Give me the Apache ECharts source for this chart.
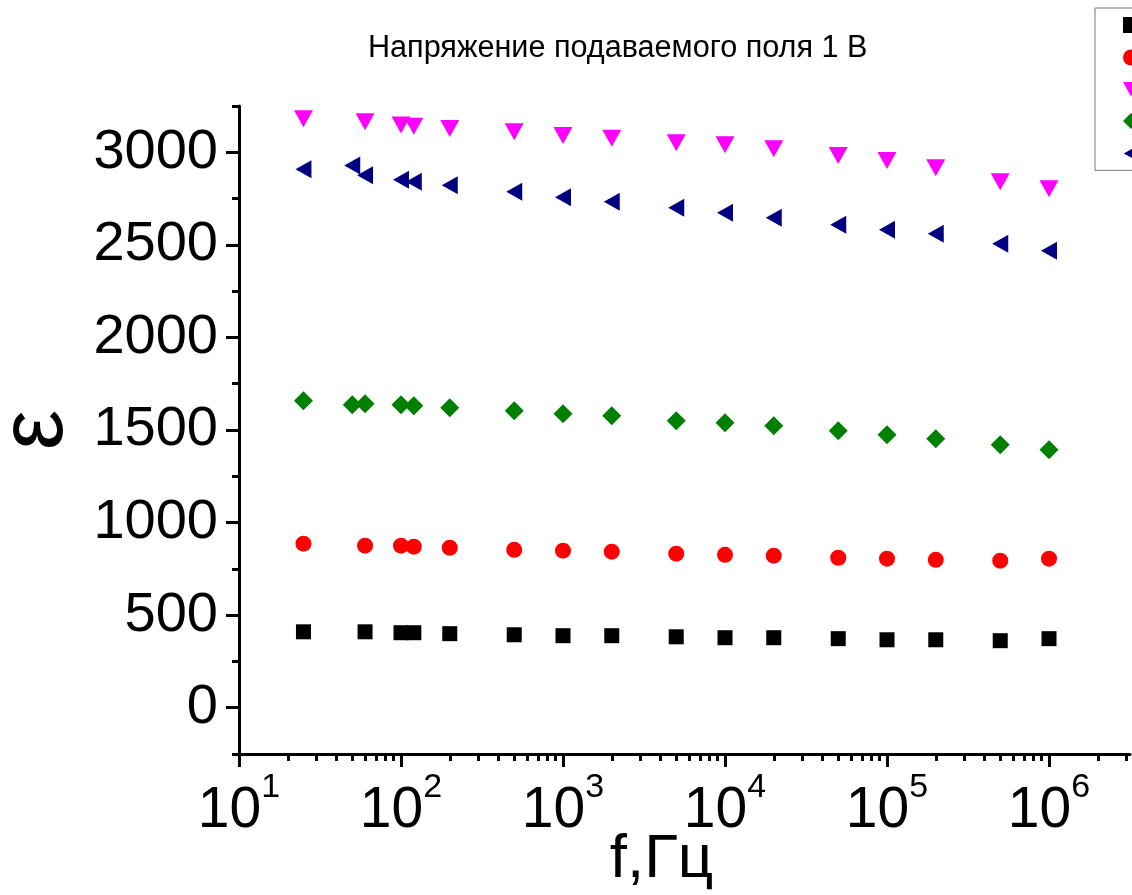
<!DOCTYPE html>
<html><head><meta charset="utf-8">
<script src="https://cdn.jsdelivr.net/npm/echarts@6/dist/echarts.min.js"></script>
<style>html,body{margin:0;padding:0;background:#fff}#c{width:1132px;height:895px}</style>
</head><body><div id="c"></div>
<script>
// frequencies (Hz)
const freqA = [25, 60, 100, 120, 200, 500, 1000, 2000, 5000, 1e4, 2e4, 5e4, 1e5, 2e5, 5e5, 1e6];
const freqB = [25, 50, 60, 100, 120, 200, 500, 1000, 2000, 5000, 1e4, 2e4, 5e4, 1e5, 2e5, 5e5, 1e6];
// permittivity values
const epsBlack   = [410, 410, 405, 405, 400, 394, 389, 389, 383, 378, 378, 373, 367, 367, 362, 373];
const epsRed     = [886, 875, 875, 870, 864, 853, 848, 843, 832, 826, 821, 810, 805, 799, 794, 805];
const epsMagenta = [3181, 3165, 3148, 3140, 3129, 3111, 3091, 3076, 3052, 3041, 3019, 2982, 2955, 2917, 2841, 2803];
const epsGreen   = [1658, 1637, 1642, 1637, 1631, 1620, 1604, 1588, 1577, 1550, 1539, 1523, 1496, 1475, 1453, 1421, 1394];
const epsNavy    = [2909, 2929, 2876, 2852, 2841, 2822, 2787, 2757, 2733, 2701, 2674, 2647, 2609, 2582, 2560, 2506, 2468];
const seriesNames = ['1', '2', '3', '4', '5'];
// ticks
const xMajor = [10, 100, 1000, 1e4, 1e5, 1e6];
const xMinor = [20,30,40,50,60,70,80,90, 200,300,400,500,600,700,800,900,
  2000,3000,4000,5000,6000,7000,8000,9000, 2e4,3e4,4e4,5e4,6e4,7e4,8e4,9e4,
  2e5,3e5,4e5,5e5,6e5,7e5,8e5,9e5, 2e6,3e6];
const yMajor = [0, 500, 1000, 1500, 2000, 2500, 3000];
const yMinor = [-250, 250, 750, 1250, 1750, 2250, 2750, 3250];
const titleText = 'Напряжение подаваемого поля 1 В';

const FONT = 'Liberation Sans, Arial, sans-serif';
const zip = (xs, ys) => xs.map((x, i) => [x, ys[i]]);
const XMAX = Math.pow(10, 6.5);
const blackLine = { color: '#000', width: 3 };
const downTri = 'path://M0,0L20,0L10,18Z';
const leftTri = 'path://M18,0L18,20L0,10Z';

const chart = echarts.init(document.getElementById('c'), null, { renderer: 'canvas' });
chart.setOption({
  animation: false,
  backgroundColor: '#fff',
  title: {
    text: titleText, left: 368, top: 33, padding: 0,
    textStyle: { fontSize: 30.6, fontWeight: 'normal', fontFamily: FONT, color: '#000' }
  },
  legend: {
    orient: 'vertical', left: 1095, top: 8,
    padding: [9, 10, 9, 28], itemWidth: 16, itemHeight: 16, itemGap: 16.5,
    borderColor: '#777', borderWidth: 1,
    textStyle: { fontSize: 14, fontFamily: FONT, color: '#000' },
    data: [
      { name: seriesNames[0], icon: 'rect' },
      { name: seriesNames[1], icon: 'circle' },
      { name: seriesNames[2], icon: downTri },
      { name: seriesNames[3], icon: 'diamond' },
      { name: seriesNames[4], icon: leftTri }
    ]
  },
  grid: { left: 239, right: 2, top: 106, bottom: 141, containLabel: false, outerBoundsMode: 'none' },
  xAxis: [
    {
      type: 'log', logBase: 10, min: 10, max: XMAX, position: 'bottom',
      axisLine: { onZero: false, lineStyle: blackLine },
      axisTick: { customValues: xMajor, length: 13, lineStyle: blackLine },
      axisLabel: {
        customValues: xMajor, margin: 25,
        formatter: v => '{b|10}{s|' + Math.round(Math.log10(v)) + '}',
        rich: {
          b: { fontSize: 57, lineHeight: 64, fontFamily: FONT, color: '#000' },
          s: { fontSize: 34, lineHeight: 34, fontFamily: FONT, color: '#000', padding: [0, 0, 46, 0] }
        }
      },
      splitLine: { show: false },
      name: 'f,Гц', nameLocation: 'middle', nameGap: 75, nameMoveOverlap: false,
      nameTextStyle: { fontSize: 62, fontFamily: FONT, color: '#000', padding: [0, 46, 0, 0] }
    },
    {
      type: 'log', logBase: 10, min: 10, max: XMAX, position: 'bottom',
      axisLine: { show: false, onZero: false },
      axisTick: { customValues: xMinor, length: 7, lineStyle: blackLine },
      axisLabel: { show: false }, splitLine: { show: false }
    }
  ],
  yAxis: [
    {
      type: 'value', min: -250, max: 3250, position: 'left',
      axisLine: { onZero: false, lineStyle: blackLine },
      axisTick: { customValues: yMajor, length: 13, lineStyle: blackLine },
      axisLabel: { customValues: yMajor, margin: 21, fontSize: 56, fontFamily: FONT, color: '#000', formatter: v => String(v) },
      splitLine: { show: false },
      name: 'ε', nameLocation: 'middle', nameGap: 157, nameMoveOverlap: false,
      nameTextStyle: { fontSize: 90, fontFamily: FONT, color: '#000' }
    },
    {
      type: 'value', min: -250, max: 3250, position: 'left',
      axisLine: { show: false, onZero: false },
      axisTick: { customValues: yMinor, length: 7, lineStyle: blackLine },
      axisLabel: { show: false }, splitLine: { show: false }
    }
  ],
  series: [
    { name: seriesNames[0], type: 'scatter', data: zip(freqA, epsBlack), symbol: 'rect', symbolSize: 15, itemStyle: { color: '#000000', opacity: 1 } },
    { name: seriesNames[1], type: 'scatter', data: zip(freqA, epsRed), symbol: 'circle', symbolSize: 16, itemStyle: { color: '#ff0000', opacity: 1 } },
    { name: seriesNames[2], type: 'scatter', data: zip(freqA, epsMagenta), symbol: 'triangle', symbolRotate: 180, symbolSize: [19, 17], itemStyle: { color: '#ff00ff', opacity: 1 } },
    { name: seriesNames[3], type: 'scatter', data: zip(freqB, epsGreen), symbol: 'diamond', symbolSize: [19, 19], itemStyle: { color: '#008000', opacity: 1 } },
    { name: seriesNames[4], type: 'scatter', data: zip(freqB, epsNavy), symbol: 'triangle', symbolRotate: 90, symbolSize: [18, 16], itemStyle: { color: '#000080', opacity: 1 } }
  ]
});
</script>
</body></html>
